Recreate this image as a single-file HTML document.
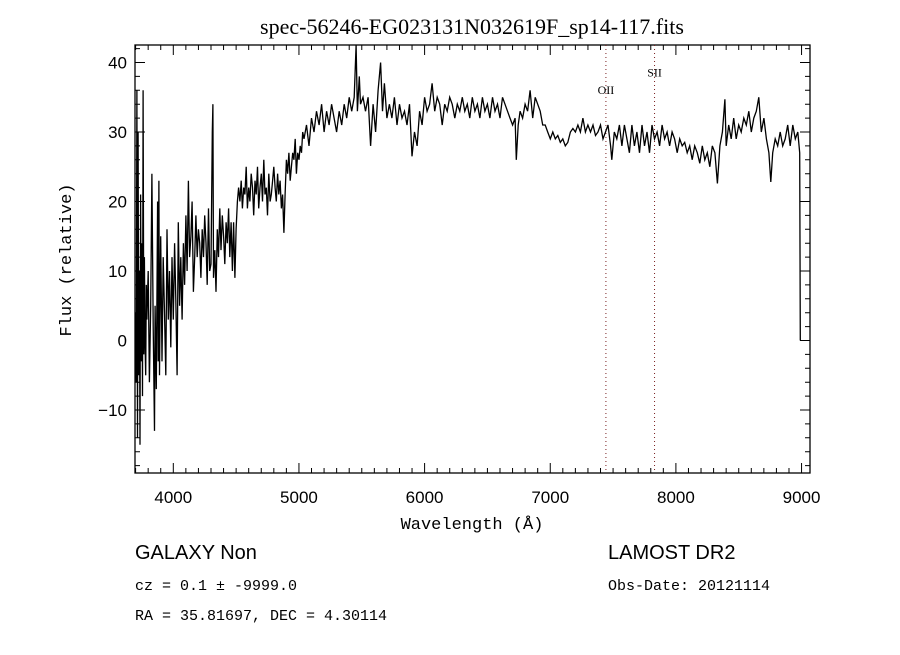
<!DOCTYPE html>
<html><head><meta charset="utf-8"><style>
body{margin:0;background:#fff;}
svg text{font-family:"Liberation Sans",sans-serif;fill:#000;}
</style></head><body>
<svg id="chart" width="900" height="650" xmlns="http://www.w3.org/2000/svg">
<rect width="900" height="650" fill="#fff"/>
<text x="472" y="34" text-anchor="middle" font-size="22" style="font-family:'Liberation Serif',serif">spec-56246-EG023131N032619F_sp14-117.fits</text>
<g id="axes"></g>
<g id="marks"></g>
<text x="472" y="529" text-anchor="middle" font-size="17" style="font-family:'Liberation Mono',monospace">Wavelength (Å)</text>
<text transform="translate(71,260) rotate(-90)" text-anchor="middle" font-size="17" style="font-family:'Liberation Mono',monospace">Flux (relative)</text>
<text x="135" y="559" font-size="20">GALAXY    Non</text>
<text x="135" y="590" font-size="15" style="font-family:'Liberation Mono',monospace">cz = 0.1 ± -9999.0</text>
<text x="135" y="620" font-size="15" style="font-family:'Liberation Mono',monospace">RA =  35.81697, DEC =   4.30114</text>
<text x="608" y="559" font-size="20">LAMOST DR2</text>
<text x="608" y="590" font-size="15" style="font-family:'Liberation Mono',monospace">Obs-Date: 20121114</text>
</svg>
<script>
const wavelengths=[3700,3705,3710,3715,3720,3725,3730,3735,3740,3745,3750,3755,3760,3765,3770,3775,3780,3785,3790,3800,3810,3820,3830,3840,3850,3855,3865,3875,3880,3885,3890,3900,3910,3920,3930,3940,3950,3960,3970,3980,3990,4000,4010,4020,4030,4040,4050,4060,4070,4080,4090,4100,4110,4120,4130,4140,4150,4160,4170,4180,4190,4200,4210,4220,4230,4240,4250,4260,4270,4280,4290,4300,4310,4315,4320,4330,4340,4350,4360,4370,4380,4390,4400,4410,4420,4430,4440,4450,4460,4470,4480,4490,4500,4510,4520,4530,4540,4550,4560,4570,4580,4590,4600,4610,4620,4630,4640,4650,4660,4670,4680,4690,4700,4710,4720,4730,4740,4750,4760,4770,4780,4790,4800,4810,4820,4830,4840,4850,4860,4870,4880,4890,4900,4910,4920,4930,4940,4950,4960,4970,4980,4990,5000,5010,5020,5030,5040,5060,5080,5100,5120,5140,5160,5180,5200,5220,5240,5260,5280,5300,5320,5340,5360,5380,5400,5420,5440,5455,5465,5480,5490,5510,5530,5550,5570,5590,5610,5630,5650,5665,5680,5700,5720,5740,5760,5780,5800,5820,5840,5860,5880,5900,5920,5940,5960,5980,6000,6020,6040,6060,6080,6100,6120,6140,6160,6180,6200,6220,6240,6260,6280,6300,6320,6340,6360,6380,6400,6420,6440,6460,6480,6500,6520,6540,6560,6580,6600,6620,6640,6660,6680,6700,6720,6730,6745,6760,6780,6800,6820,6840,6860,6880,6900,6920,6940,6960,6980,7000,7020,7040,7060,7080,7100,7120,7140,7160,7180,7200,7220,7240,7260,7280,7300,7320,7340,7360,7380,7400,7420,7440,7460,7480,7490,7510,7530,7550,7570,7590,7610,7630,7650,7670,7690,7710,7730,7750,7770,7790,7810,7830,7850,7870,7890,7910,7930,7950,7970,7990,8010,8030,8050,8070,8090,8110,8130,8150,8170,8190,8210,8230,8250,8270,8290,8310,8330,8350,8370,8390,8400,8420,8440,8460,8480,8500,8520,8540,8560,8580,8600,8620,8640,8660,8680,8700,8720,8740,8755,8770,8790,8810,8830,8850,8870,8890,8910,8930,8950,8970,8985,8990];
const flux=[4,-6,36,-14,30,-5,10,-15,21,-3,14,-8,36,-2,12,0,-5,8,3,10,-6,5,24,2,-13,5,-7,20,-3,23,-5,15,-3,12,4,-5,16,3,10,-1,12,3,14,6,-5,17,5,12,3,14,8,18,10,23,12,15,20,7,12,18,12,16,14,9,16,12,18,14,8,19,10,11,30,34,9,13,7,16,12,19,13,18,15,11,17,14,19,12,17,10,17,9,16,20,22,20,23,19,22,21,25,19,22,20,24,22,18,23,21,25,19,22,24,20,26,21,22,18,24,20,21,23,25,22,20,24,21,23,19,21,15.5,21,26,24,27,23,25,27,26,29,24,27,26,28,27,30,29,31,28,32,30,33,31,34,30,33,31,34,32,30,33,31,34,32,35,33,35,42.5,33,38,34,35,33,35,28,34,30,36,40,33,37,32,34,32,35,31,34,32,33,31,34,26.5,30,28,33,31,35,33,34,37,33,35,34,31,34,33,35,34,32,34,33,35,33,34,32,35,33,34,32,35,33,34,32,35,33,34,32,35,34,33,32,31,32,26,31,33,32,34,33,36,32,35,34,33,31,31,30,29,30,29,29.5,28.5,29,28,28.5,30,30.5,30,31,30,32,30,31,30,31,29.5,30,31,29,30,31,28,26,30,29,31,28,31,29,27,31,28,30,27,31,28,30,27,31,29,30,28,31,29,30,28,30,29,27,29,28,28.5,27,28,26,28,27,25.5,28,26,27,25,28,27,22.6,28,30,34.7,28,31,29,32,29,31,30,32,31,33,30,32,33,35,30,32,29,27,22.8,27,29,28,30,28,29,31,28,31,29,30,27,0];
const xTickValues=[4000,5000,6000,7000,8000,9000];
const xTickLabels=["4000","5000","6000","7000","8000","9000"];
const yTickValues=[-10,0,10,20,30,40];
const yTickLabels=["\u221210","0","10","20","30","40"];
const lineNames=["OII","SII"];
const lineWavelengths=[7443,7830];
const lineLabelFlux=[35.5,38];

const L=135,R=810,T=45,B=473;
function xs(w){return 173.3+(w-4000)*0.12565;}
function ys(v){return 340.5-(v)*6.95;}
const NS="http://www.w3.org/2000/svg";
const axes=document.getElementById('axes'),marks=document.getElementById('marks');
function mk(tag,attrs,parent){const e=document.createElementNS(NS,tag);for(const k in attrs)e.setAttribute(k,attrs[k]);parent.appendChild(e);return e;}

const frame=mk('rect',{x:L,y:T,width:R-L,height:B-T,fill:'none',stroke:'#000','stroke-width':1.3},axes);



let d='';
for(let w=3700;w<=9050;w+=100){const x=xs(w);if(x<L||x>R)continue;const len=(w%1000===0)?10:5;d+=`M${x},${B}v${-len}M${x},${T}v${len}`;}
for(let v=-18;v<=42;v+=2){const y=ys(v);if(y<T||y>B)continue;const len=(v%10===0)?10:5;d+=`M${L},${y}h${len}M${R},${y}h${-len}`;}
const ticks=mk('path',{d:d,stroke:'#000','stroke-width':1,fill:'none'},axes);



xTickValues.forEach((w,i)=>{const t=mk('text',{x:xs(w),y:B+30,'text-anchor':'middle','font-size':17},axes);t.textContent=xTickLabels[i];

});
yTickValues.forEach((v,i)=>{const t=mk('text',{x:L-8,y:ys(v)+6,'text-anchor':'end','font-size':17},axes);t.textContent=yTickLabels[i];

});

lineWavelengths.forEach((w,i)=>{
const ln=mk('line',{x1:xs(w),x2:xs(w),y1:T,y2:B,stroke:'#7a2020','stroke-width':1,'stroke-dasharray':'1,3'},marks);


const t=mk('text',{x:xs(w),y:ys(lineLabelFlux[i]),'text-anchor':'middle','font-size':12,style:"font-family:'Liberation Serif',serif"},marks);t.textContent=lineNames[i];


});

let p='';
wavelengths.forEach((w,i)=>{const x=xs(w),y=Math.max(T,Math.min(B,ys(flux[i])));p+=(i?'L':'M')+x.toFixed(1)+','+y.toFixed(1);});
const spec=mk('path',{d:p,stroke:'#000','stroke-width':1.3,fill:'none','stroke-linejoin':'miter'},marks);


</script>
</body></html>
